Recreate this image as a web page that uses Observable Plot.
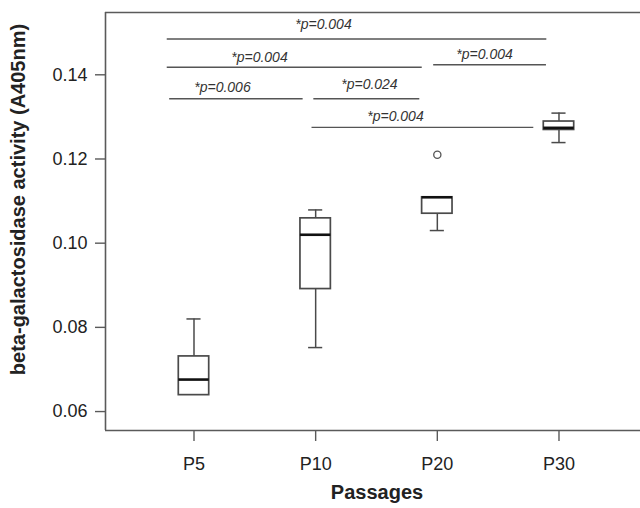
<!DOCTYPE html>
<html>
<head>
<meta charset="utf-8">
<script src="https://cdn.jsdelivr.net/npm/d3@7"></script>
<script src="https://cdn.jsdelivr.net/npm/@observablehq/plot@0.6"></script>
<style>
  html, body { margin: 0; padding: 0; background: #fff; }
  #chart svg { display: block; }
</style>
</head>
<body>
<div id="chart"></div>
<script>
// Categories (x index 1..4)
const passages = ["P5", "P10", "P20", "P30"];
// Box plot statistics per passage
const whiskerLow  = [0.0639, 0.0752, 0.1030, 0.1239];
const q1          = [0.0639, 0.0891, 0.1070, 0.1269];
const median      = [0.0676, 0.1020, 0.1109, 0.1274];
const q3          = [0.0731, 0.1059, 0.1109, 0.1289];
const whiskerHigh = [0.0820, 0.1079, 0.1109, 0.1309];
// Outliers
const outlierPassage = ["P20"];
const outlierValue = [0.1210];
// Significance brackets (x in category-index units, y in data units)
const sigFrom   = [0.78, 0.78, 2.97, 0.80, 1.985, 1.97];
const sigTo     = [3.90, 2.876, 3.897, 1.897, 2.856, 3.793];
const sigY      = [0.1485, 0.1418, 0.1424, 0.1343, 0.1343, 0.1275];
const sigLabelX = [2.064, 1.538, 3.388, 1.234, 2.442, 2.656];
const sigLabelY = [0.1519, 0.1442, 0.1448, 0.1370, 0.1378, 0.1301];
const sigLabel  = ["*p=0.004", "*p=0.004", "*p=0.004", "*p=0.006", "*p=0.024", "*p=0.004"];
// Axis ticks
const yTicks = [0.06, 0.08, 0.10, 0.12, 0.14];
const xDomain = [0.2726, 4.67];
const yDomain = [0.0555, 0.1548];

const boxes = passages.map((p, i) => ({
  p, i: i + 1,
  lo: whiskerLow[i], q1: q1[i], med: median[i], q3: q3[i], hi: whiskerHigh[i]
}));
const outliers = outlierPassage.map((p, k) => ({i: passages.indexOf(p) + 1, v: outlierValue[k]}));
const sigs = sigLabel.map((t, k) => ({x1: sigFrom[k], x2: sigTo[k], y: sigY[k], tx: sigLabelX[k], ty: sigLabelY[k], t}));

const hw = 0.125;   // half box width in index units
const cw = 0.058;   // half cap width
const boxStroke = "#4a4a4a";
const frameStroke = "#5a5a5a";

const chart = Plot.plot({
  width: 640,
  height: 508,
  marginTop: 12,
  marginBottom: 78,
  marginLeft: 105,
  marginRight: 0,
  style: {fontFamily: "'Liberation Sans', Arial, Helvetica, sans-serif", background: "#fff", color: "#222"},
  x: {type: "linear", domain: xDomain},
  y: {domain: yDomain},
  marks: [
    // frame: left, top, bottom
    Plot.ruleX([xDomain[0]], {stroke: frameStroke, strokeWidth: 1.6}),
    Plot.ruleY([yDomain[1]], {stroke: frameStroke, strokeWidth: 1.6}),
    Plot.ruleY([yDomain[0]], {stroke: frameStroke, strokeWidth: 1.6}),
    // axes
    Plot.axisY({ticks: yTicks, tickFormat: d3.format(".2f"), tickSize: 10, tickPadding: 8,
      stroke: frameStroke, strokeWidth: 1.4, fontSize: 18, fill: "#222", label: null}),
    Plot.axisX({ticks: [1, 2, 3, 4], tickFormat: d => passages[d - 1], tickSize: 11, tickPadding: 16,
      stroke: frameStroke, strokeWidth: 1.4, fontSize: 18, fill: "#222", label: null}),
    // whiskers
    Plot.ruleX(boxes.filter(d => d.hi > d.q3), {x: "i", y1: "q3", y2: "hi", stroke: boxStroke, strokeWidth: 1.5}),
    Plot.ruleX(boxes.filter(d => d.lo < d.q1), {x: "i", y1: "lo", y2: "q1", stroke: boxStroke, strokeWidth: 1.5}),
    Plot.ruleY(boxes.filter(d => d.hi > d.q3), {y: "hi", x1: d => d.i - cw, x2: d => d.i + cw, stroke: boxStroke, strokeWidth: 1.5}),
    Plot.ruleY(boxes.filter(d => d.lo < d.q1), {y: "lo", x1: d => d.i - cw, x2: d => d.i + cw, stroke: boxStroke, strokeWidth: 1.5}),
    // boxes
    Plot.rect(boxes, {x1: d => d.i - hw, x2: d => d.i + hw, y1: "q1", y2: "q3", fill: "#fff", stroke: boxStroke, strokeWidth: 1.7}),
    // medians
    Plot.ruleY(boxes, {y: "med", x1: d => d.i - hw, x2: d => d.i + hw, stroke: "#111", strokeWidth: 2.6}),
    // outliers
    Plot.dot(outliers, {x: "i", y: "v", r: 3.6, stroke: "#555", strokeWidth: 1.3, fill: "#fff"}),
    // significance brackets
    Plot.ruleY(sigs, {y: "y", x1: "x1", x2: "x2", stroke: "#555", strokeWidth: 1.4}),
    Plot.text(sigs, {x: "tx", y: "ty", text: "t", fontSize: 14, fontStyle: "italic", fill: "#333"}),
    // axis titles
    Plot.text(["Passages"], {frameAnchor: "bottom", dy: 68, dx: 4, fontSize: 20, fontWeight: "bold", fill: "#222"}),
    Plot.text(["beta-galactosidase activity (A405nm)"], {frameAnchor: "left", dx: -87, dy: -22, rotate: -90,
      textAnchor: "middle", fontSize: 20, fontWeight: "bold", fill: "#222"})
  ]
});
document.getElementById("chart").appendChild(chart);
</script>
</body>
</html>
